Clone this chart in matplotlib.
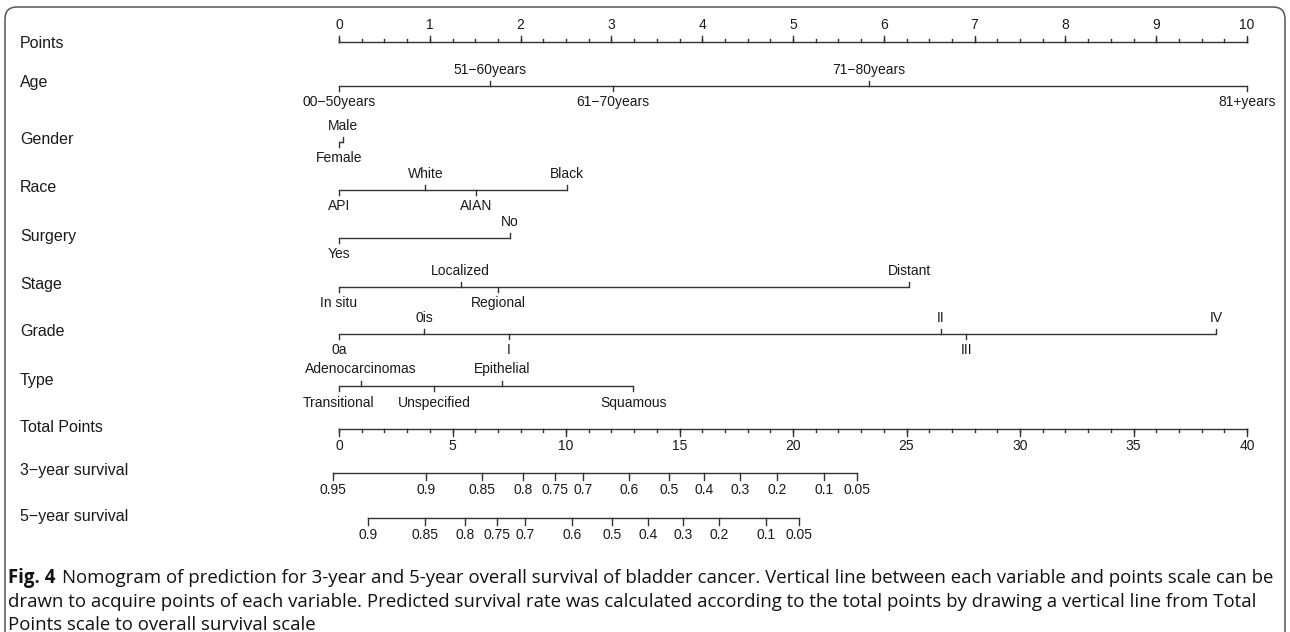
import matplotlib
matplotlib.use("Agg")
import matplotlib.pyplot as plt
from matplotlib.patches import FancyBboxPatch
import numpy as np

plt.rcParams["font.family"] = ["Liberation Sans", "DejaVu Sans"]

# ── Data ─────────────────────────────────────────────────────
POINT_MAJOR = np.arange(0, 11, 1)
POINT_MINOR = np.arange(0, 10.001, 0.25)

AGE_LABELS = ["00\u221250years", "51\u221260years", "61\u221270years", "71\u221280years", "81+years"]
AGE_PTS = [0.0, 1.66, 3.02, 5.84, 10.0]

GENDER_LABELS = ["Female", "Male"]
GENDER_PTS = [0.0, 0.04]

RACE_LABELS = ["API", "White", "AIAN", "Black"]
RACE_PTS = [0.0, 0.95, 1.51, 2.51]

SURGERY_LABELS = ["Yes", "No"]
SURGERY_PTS = [0.0, 1.88]

STAGE_LABELS = ["In situ", "Localized", "Regional", "Distant"]
STAGE_PTS = [0.0, 1.34, 1.75, 6.28]

GRADE_LABELS = ["0a", "0is", "I", "II", "III", "IV"]
GRADE_PTS = [0.0, 0.94, 1.87, 6.63, 6.91, 9.66]

TYPE_LABELS = ["Transitional", "Adenocarcinomas", "Unspecified", "Epithelial", "Squamous"]
TYPE_PTS = [0.0, 0.24, 1.05, 1.80, 3.24]

TOTAL_MAJOR = np.arange(0, 41, 5)
TOTAL_MINOR = np.arange(0, 41, 1)
TOTAL_MAX = 40

SURV3_LABELS = ["0.95", "0.9", "0.85", "0.8", "0.75", "0.7", "0.6", "0.5", "0.4", "0.3", "0.2", "0.1", "0.05"]
SURV3_TP = [-0.26, 3.83, 6.31, 8.10, 9.53, 10.77, 12.79, 14.54, 16.09, 17.67, 19.30, 21.37, 22.84]

SURV5_LABELS = ["0.9", "0.85", "0.8", "0.75", "0.7", "0.6", "0.5", "0.4", "0.3", "0.2", "0.1", "0.05"]
SURV5_TP = [1.29, 3.78, 5.57, 6.98, 8.21, 10.27, 12.01, 13.61, 15.14, 16.76, 18.80, 20.28]

CAPTION_HEAD = "Fig. 4"
CAPTION_LINES = [
    "Nomogram of prediction for 3-year and 5-year overall survival of bladder cancer. Vertical line between each variable and points scale can be",
    "drawn to acquire points of each variable. Predicted survival rate was calculated according to the total points by drawing a vertical line from Total",
    "Points scale to overall survival scale",
]

# ── Layout ───────────────────────────────────────────────────
W, H = 1290, 632
X0, X10 = 339, 1247            # pixel positions of 0 and 10 points
PPP = (X10 - X0) / 10.0
LINE_C = "#333333"
TXT_C = "#1a1a1a"
LAB_FS = 11.5
TICK_FS = 10

fig = plt.figure(figsize=(W / 100, H / 100), dpi=100)
fig.patch.set_facecolor("white")
ax = fig.add_axes([0, 0, 1, 1])
ax.set_xlim(-X0 / PPP, (W - X0) / PPP)
ax.set_ylim(H, 0)
ax.axis("off")

frame = fig.add_axes([0, 0, 1, 1], zorder=-1)
frame.set_xlim(0, W)
frame.set_ylim(H, 0)
frame.axis("off")


def row_label(y, text):
    ax.text(-X0 / PPP + 20 / PPP, y, text, fontsize=LAB_FS, color=TXT_C,
            ha="left", va="center")


def variable_row(y_line, y_lab, name, labels, pts, tick=5, off=16):
    row_label(y_lab, name)
    order = np.argsort(pts, kind="stable")
    ax.plot([min(pts), max(pts)], [y_line, y_line], color=LINE_C, lw=1.0,
            solid_capstyle="butt")
    for k, i in enumerate(order):
        up = (k % 2 == 1)
        d = -1 if up else 1
        ax.plot([pts[i], pts[i]], [y_line, y_line + d * tick], color=LINE_C, lw=1.0)
        ax.text(pts[i], y_line + d * off, labels[i], fontsize=TICK_FS, color=TXT_C,
                ha="center", va="center")


# Points scale
y = 42
row_label(43, "Points")
ax.plot([0, 10], [y, y], color=LINE_C, lw=1.0)
for p in POINT_MINOR:
    ax.plot([p, p], [y, y - 3], color=LINE_C, lw=1.0)
for p in POINT_MAJOR:
    ax.plot([p, p], [y, y - 6.5], color=LINE_C, lw=1.0)
    ax.text(p, y - 17, f"{p:d}", fontsize=TICK_FS, color=TXT_C, ha="center", va="center")

variable_row(86, 83, "Age", AGE_LABELS, AGE_PTS)
variable_row(142, 140, "Gender", GENDER_LABELS, GENDER_PTS, off=16)
variable_row(190, 187, "Race", RACE_LABELS, RACE_PTS)
variable_row(238, 236, "Surgery", SURGERY_LABELS, SURGERY_PTS)
variable_row(287, 284, "Stage", STAGE_LABELS, STAGE_PTS)
variable_row(334, 332, "Grade", GRADE_LABELS, GRADE_PTS)
variable_row(386, 380, "Type", TYPE_LABELS, TYPE_PTS, off=17)

# Total points scale
scale = 10.0 / TOTAL_MAX
y = 429
row_label(428, "Total Points")
ax.plot([0, TOTAL_MAX * scale], [y, y], color=LINE_C, lw=1.0)
for t in TOTAL_MINOR:
    ax.plot([t * scale, t * scale], [y, y + 3], color=LINE_C, lw=1.0)
for t in TOTAL_MAJOR:
    ax.plot([t * scale, t * scale], [y, y + 6.5], color=LINE_C, lw=1.0)
    ax.text(t * scale, y + 17, f"{t:d}", fontsize=TICK_FS, color=TXT_C, ha="center", va="center")


def survival_row(y_line, y_lab, name, labels, tps):
    row_label(y_lab, name)
    xs = [t * scale for t in tps]
    ax.plot([min(xs), max(xs)], [y_line, y_line], color=LINE_C, lw=1.0)
    for xv, lab in zip(xs, labels):
        ax.plot([xv, xv], [y_line, y_line + 6.5], color=LINE_C, lw=1.0)
        ax.text(xv, y_line + 17, lab, fontsize=TICK_FS, color=TXT_C, ha="center", va="center")


survival_row(473, 471, "3\u2212year survival", SURV3_LABELS, SURV3_TP)
survival_row(518, 516, "5\u2212year survival", SURV5_LABELS, SURV5_TP)

# Figure frame (open at the bottom)
frame.add_patch(FancyBboxPatch((5, 7), 1280, 700,
                               boxstyle="round,pad=0,rounding_size=12",
                               fill=False, ec="#555555", lw=1.1))

# Caption
cap_family = ["Liberation Sans Narrow", "Open Sans", "DejaVu Sans"]
fig.canvas.draw()
rend = fig.canvas.get_renderer()
line_y = [578, 602, 625]
fs = 12.5
head = frame.text(8, line_y[0], CAPTION_HEAD, fontsize=fs, fontweight="bold",
                  family=cap_family, color="#111111", ha="left", va="center")
hw = head.get_window_extent(rend).width
first = frame.text(8 + hw + 8, line_y[0], CAPTION_LINES[0], fontsize=fs,
                   family=cap_family, color="#111111", ha="left", va="center")
w0 = first.get_window_extent(rend).width
fs_fit = fs * (1276 - (8 + hw + 8)) / w0
head.set_fontsize(fs_fit)
hw = head.get_window_extent(rend).width
first.set_fontsize(fs_fit)
first.set_x(8 + hw + 7)
for txt, yy in zip(CAPTION_LINES[1:], line_y[1:]):
    frame.text(8, yy, txt, fontsize=fs_fit, family=cap_family, color="#111111",
               ha="left", va="center")

fig.savefig("out.png", dpi=100)
